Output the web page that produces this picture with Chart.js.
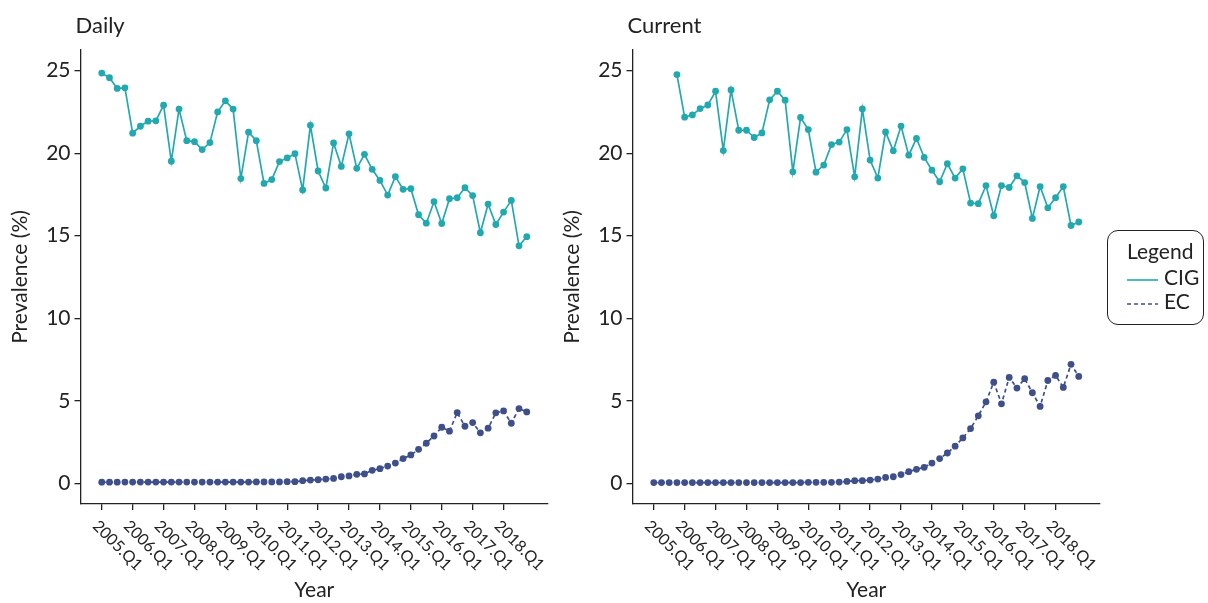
<!DOCTYPE html>
<html>
<head>
<meta charset="utf-8">
<script src="https://cdn.jsdelivr.net/npm/chart.js@4.4.0/dist/chart.umd.min.js"></script>
<style>
  body { margin: 0; background: #fff; width: 1208px; height: 603px; position: relative; overflow: hidden; font-family: Lato, sans-serif; }
  .panel { position: absolute; top: 0; width: 560px; height: 603px; }
  #legend { position: absolute; left: 1107px; top: 230px; width: 97px; height: 95px; border: 1.5px solid #222; border-radius: 11px; box-sizing: border-box; color: #222; font-size: 21px; }
  #legend .ttl { position: absolute; left: 19px; top: 7px; }
  #legend .row { position: absolute; left: 19px; height: 24px; line-height: 24px; }
  #legend svg { vertical-align: middle; margin-right: 6px; }
</style>
</head>
<body>
<div class="panel" style="left:0"><canvas id="dailyChart" width="560" height="603"></canvas></div>
<div class="panel" style="left:552px"><canvas id="currentChart" width="560" height="603"></canvas></div>
<div id="legend">
  <div class="ttl">Legend</div>
  <div class="row" style="top:34px"><svg width="31" height="4"><line x1="0" y1="2" x2="31" y2="2" stroke="#22A9B0" stroke-width="1.6"/></svg>CIG</div>
  <div class="row" style="top:58px"><svg width="31" height="4"><line x1="0" y1="2" x2="31" y2="2" stroke="#3E4F8A" stroke-width="1.6" stroke-dasharray="4 3"/></svg>EC</div>
</div>
<script>
// 四半期ラベル 2005.Q1 〜 2018.Q4
const quarters = [];
for (let y = 2005; y <= 2018; y++) {
    for (let q = 1; q <= 4; q++) quarters.push(`${y}.Q${q}`);
}
const xTickIdx = quarters.map((q, i) => q.endsWith('Q1') ? i : -1).filter(i => i >= 0);
const yTicks = [0, 5, 10, 15, 20, 25];

// Daily
const dailyCIG = [24.85, 24.57, 23.92, 23.96, 21.21, 21.63, 21.94, 21.96, 22.91, 19.51,
    22.67, 20.76, 20.70, 20.22, 20.64, 22.50, 23.17, 22.67, 18.46, 21.27,
    20.76, 18.17, 18.40, 19.49, 19.71, 19.97, 17.77, 21.69, 18.92, 17.89,
    20.62, 19.20, 21.17, 19.08, 19.93, 19.02, 18.35, 17.46, 18.58, 17.81,
    17.85, 16.27, 15.76, 17.06, 15.74, 17.24, 17.30, 17.91, 17.43, 15.18,
    16.92, 15.68, 16.43, 17.14, 14.39, 14.94];
const dailyEC = [0.07, 0.07, 0.07, 0.08, 0.08, 0.08, 0.08, 0.08, 0.08, 0.08,
    0.08, 0.08, 0.08, 0.08, 0.08, 0.08, 0.08, 0.08, 0.08, 0.08,
    0.09, 0.09, 0.09, 0.09, 0.10, 0.10, 0.16, 0.20, 0.22, 0.26,
    0.30, 0.40, 0.45, 0.55, 0.57, 0.79, 0.89, 1.05, 1.23, 1.50,
    1.72, 2.06, 2.43, 2.87, 3.40, 3.16, 4.29, 3.46, 3.68, 3.06,
    3.34, 4.27, 4.39, 3.64, 4.53, 4.33];

// Current (CIG は 2005.Q4 から)
const currentCIG = [null, null, null, 24.76, 22.18, 22.32, 22.70, 22.92, 23.75, 20.16,
    23.83, 21.39, 21.39, 20.95, 21.23, 23.23, 23.75, 23.21, 18.87, 22.16,
    21.43, 18.85, 19.28, 20.52, 20.67, 21.43, 18.57, 22.68, 19.58, 18.49,
    21.29, 20.14, 21.64, 19.88, 20.89, 19.74, 18.97, 18.27, 19.36, 18.49,
    19.05, 16.98, 16.94, 18.04, 16.21, 18.04, 17.92, 18.63, 18.22, 16.05,
    17.98, 16.69, 17.30, 17.98, 15.62, 15.83];
const currentEC = [0.05, 0.05, 0.05, 0.05, 0.05, 0.05, 0.05, 0.05, 0.05, 0.05,
    0.05, 0.05, 0.05, 0.05, 0.05, 0.05, 0.05, 0.05, 0.05, 0.05,
    0.06, 0.06, 0.06, 0.06, 0.08, 0.12, 0.16, 0.16, 0.20, 0.26,
    0.36, 0.40, 0.53, 0.71, 0.85, 0.97, 1.23, 1.50, 1.84, 2.25,
    2.75, 3.32, 4.09, 4.94, 6.13, 4.82, 6.42, 5.77, 6.34, 5.49,
    4.66, 6.23, 6.54, 5.81, 7.21, 6.48];

const CIG_COLOR = '#22A9B0';
const EC_COLOR = '#3E4F8A';
const AXIS_COLOR = '#222';

// パネルタイトルと斜めの目盛りラベル
const panelDecor = {
    id: 'panelDecor',
    afterDraw(chart, args, opts) {
        const ctx = chart.ctx;
        const xs = chart.scales.x;
        ctx.save();
        ctx.fillStyle = AXIS_COLOR;
        ctx.textBaseline = 'alphabetic';
        ctx.font = '22px Lato';
        ctx.fillText(opts.title, chart.chartArea.left - 5, 33);
        ctx.font = '16px Lato';
        ctx.textAlign = 'left';
        xs.ticks.forEach(t => {
            ctx.save();
            ctx.translate(xs.getPixelForValue(t.value) - 10, xs.top + 23);
            ctx.rotate(Math.PI / 4);
            ctx.fillText(quarters[t.value], 0, 0);
            ctx.restore();
        });
        ctx.restore();
    }
};

function toPoints(values) {
    return values.map((v, i) => ({ x: i, y: v }));
}

function makeChart(id, title, cig, ec) {
    const ctx = document.getElementById(id).getContext('2d');
    return new Chart(ctx, {
        type: 'line',
        data: {
            datasets: [{
                label: 'CIG',
                data: toPoints(cig),
                borderColor: CIG_COLOR,
                backgroundColor: CIG_COLOR,
                borderWidth: 1.7,
                pointRadius: 3.4,
                pointBorderWidth: 0,
                tension: 0
            }, {
                label: 'EC',
                data: toPoints(ec),
                borderColor: EC_COLOR,
                backgroundColor: EC_COLOR,
                borderWidth: 1.7,
                borderDash: [4, 3],
                pointRadius: 3.4,
                pointBorderWidth: 0,
                tension: 0
            }]
        },
        options: {
            responsive: false,
            animation: false,
            layout: { padding: { top: 50, right: 12, bottom: 0, left: 0 } },
            plugins: {
                legend: { display: false },
                tooltip: { enabled: false },
                panelDecor: { title: title }
            },
            scales: {
                x: {
                    type: 'linear',
                    min: -2.75,
                    max: 57.75,
                    afterBuildTicks: s => { s.ticks = xTickIdx.map(v => ({ value: v })); },
                    afterFit: s => { s.height = 99; },
                    ticks: { display: false },
                    grid: { drawOnChartArea: false, drawTicks: true, tickLength: 6, color: AXIS_COLOR, lineWidth: 1.3 },
                    border: { display: true, color: AXIS_COLOR, width: 1.3 },
                    title: { display: true, text: 'Year', color: AXIS_COLOR, font: { family: 'Lato', size: 21 }, padding: { top: 0, bottom: 0 } }
                },
                y: {
                    min: -1.25,
                    max: 26.25,
                    afterBuildTicks: s => { s.ticks = yTicks.map(v => ({ value: v })); },
                    afterFit: s => { s.width = 80.5; },
                    ticks: { color: AXIS_COLOR, font: { family: 'Lato', size: 21 }, padding: 4 },
                    grid: { drawOnChartArea: false, drawTicks: true, tickLength: 6, color: AXIS_COLOR, lineWidth: 1.3 },
                    border: { display: true, color: AXIS_COLOR, width: 1.3 },
                    title: { display: true, text: 'Prevalence (%)', color: AXIS_COLOR, font: { family: 'Lato', size: 21 }, padding: { top: 8, bottom: 0 } }
                }
            }
        },
        plugins: [panelDecor]
    });
}

makeChart('dailyChart', 'Daily', dailyCIG, dailyEC);
makeChart('currentChart', 'Current', currentCIG, currentEC);
</script>
</body>
</html>
